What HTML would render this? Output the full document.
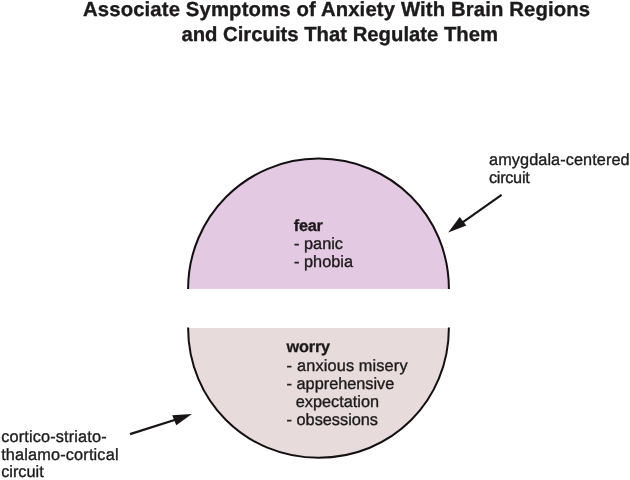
<!DOCTYPE html>
<html><head><meta charset="utf-8">
<style>
html,body{margin:0;padding:0;background:#fff;}
body{width:630px;height:480px;overflow:hidden;}
svg{display:block;will-change:transform;}
text{text-rendering:geometricPrecision;font-family:"Liberation Sans", sans-serif;fill:#1c1a1b;}
.t{font-weight:bold;font-size:20.3px;stroke:#1c1a1b;stroke-width:0.35px;letter-spacing:0.14px;}
.b{font-size:16.3px;stroke:#1c1a1b;stroke-width:0.35px;}
.bb{font-size:16.3px;font-weight:bold;stroke:#1c1a1b;stroke-width:0.3px;}
</style></head><body>
<svg width="630" height="480" viewBox="0 0 630 480" xmlns="http://www.w3.org/2000/svg">
<path d="M188.10 288.90 L188.10 289.00 C188.10 216.98 246.48 158.60 318.50 158.60 C391.39 158.60 448.90 216.11 448.90 289.00 L448.90 288.90 Z" fill="#e3c9e1"/>
<path d="M188.10 288.90 L188.10 289.00 C188.10 216.98 246.48 158.60 318.50 158.60 C391.39 158.60 448.90 216.11 448.90 289.00 L448.90 288.90" fill="none" stroke="#141012" stroke-width="2"/>
<path d="M448.90 328.00 L448.90 327.40 C448.90 400.68 391.78 457.80 318.50 457.80 C245.61 457.80 188.10 400.29 188.10 327.40 L188.10 328.00 Z" fill="#e7dcdb"/>
<path d="M448.90 328.00 L448.90 327.40 C448.90 400.68 391.78 457.80 318.50 457.80 C245.61 457.80 188.10 400.29 188.10 327.40 L188.10 328.00" fill="none" stroke="#141012" stroke-width="2"/>
<text class="t" x="83" y="16.3" id="t1">Associate Symptoms of Anxiety With Brain Regions</text>
<text class="t" x="181.4" y="41.1" id="t2" style="letter-spacing:0px">and Circuits That Regulate Them</text>
<text class="bb" x="293.8" y="230.5" id="f" style="letter-spacing:-0.3px">fear</text>
<text class="b" x="294.1" y="248.7" id="p1">- panic</text>
<text class="b" x="294.1" y="267" id="p2">- phobia</text>
<text class="bb" x="286.6" y="351.9" id="w" style="letter-spacing:-0.2px">worry</text>
<text class="b" x="286.6" y="370.5" id="w1" style="letter-spacing:0.2px">- anxious <tspan dx="-0.5">misery</tspan></text>
<text class="b" x="286.6" y="388.6" id="w2">- apprehensive</text>
<text class="b" x="295.8" y="406.6" id="w3">expectation</text>
<text class="b" x="286.6" y="424.5" id="w4">- obsessions</text>
<text class="b" x="489" y="165" id="a1" style="letter-spacing:0.08px">amygdala-centered</text>
<text class="b" x="489" y="183.3" id="a2" style="letter-spacing:-0.3px">circuit</text>
<text class="b" x="1.2" y="442.4" id="c1" style="letter-spacing:0.15px">cortico-striato-</text>
<text class="b" x="1.2" y="459.8" id="c2" style="letter-spacing:0.16px">thalamo-cortical</text>
<text class="b" x="1.2" y="477.3" id="c3">circuit</text>
<line x1="501.6" y1="194.8" x2="458" y2="225.6" stroke="#181416" stroke-width="2.2"/>
<path d="M448.2 232.6 L459.7 217.0 L466.3 225.6 Z" fill="#181416"/>
<line x1="130.0" y1="434.1" x2="180" y2="418.2" stroke="#181416" stroke-width="2.2"/>
<path d="M191.8 413.9 L172.2 415.2 L176.3 425.2 Z" fill="#181416"/>
</svg>
</body></html>
